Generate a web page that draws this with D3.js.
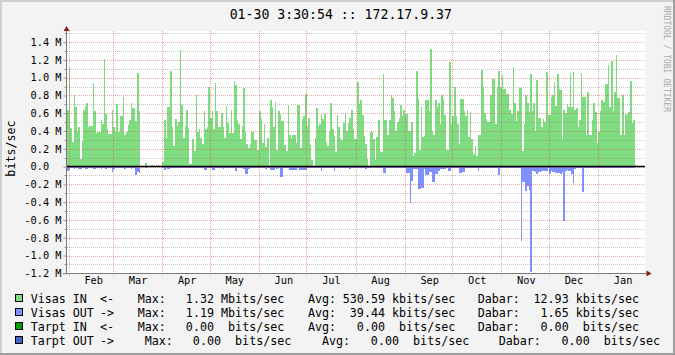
<!DOCTYPE html>
<html>
<head>
<meta charset="utf-8">
<script src="https://cdn.jsdelivr.net/npm/d3@7"></script>
<style>
  html, body { margin: 0; padding: 0; background: #f3f3f3; }
  svg { display: block; }
</style>
</head>
<body>
<div id="chart"></div>
<script>
// daily averages in Mbit/s, first value = Jan 30 of previous year
var visasIn = [
  0.32,0.64,1.12,0.43,0.28,0.81,0.67,0.39,0.45,0.09,
  0.29,0.64,0.67,0.72,0.45,0.46,0.46,0.94,0.62,0.38,
  0.39,0.39,0.52,0.48,1.21,0.59,0.42,0.37,0.37,0.64,
  0.44,0.39,0.70,0.39,0.57,0.57,0.78,0.36,0.39,0.47,
  0.52,0.71,0.66,0.66,0.51,1.05,0.62,
  0,0,0,0.04,0,0,0,0.015,0,0,0,0.015,0,0,
  0.05,0.52,0.32,0.67,0.67,1.08,0.44,0.23,0.53,0.46,
  0.50,1.31,0.69,0.32,0.46,0.64,0.43,0.03,0.03,0.31,
  0.18,0.80,0.39,0.42,0.32,0.25,0.63,0.42,0.44,0.89,
  0.55,0.63,0.42,0.94,0.63,0.45,0.45,0.60,0.44,0.32,
  0.68,0.49,0.38,0.64,0.38,0.96,0.92,0.52,0.48,0.31,
  0.46,0.88,0.39,0.25,0.21,0.25,0.39,0.39,0.30,0.30,
  0.19,0.63,0.53,0.26,0.48,0.22,0.32,0.02,0.75,0.67,
  0.45,0.73,0.19,0.62,0.59,0.51,0.51,0.24,0.17,0.69,
  0.35,0.32,0.36,0.36,0.27,0.69,0.69,0.21,0.53,0.57,
  0.82,0.46,0.55,0.24,0.07,0.01,0.32,0.66,0.46,0.48,
  0.59,0.53,0.59,0.28,0.23,0.40,0.71,0.42,0.34,0.16,
  0.58,0.44,0.32,0.30,0.49,0.60,0.40,0.49,0.55,0.64,
  0.42,
  0.31,0.31,0.95,0.70,0.75,0.58,0.34,0.25,0.09,0,
  0.39,0.39,0.31,0.07,0.33,0.52,0.18,0.16,1.04,0.52,
  0.52,0.36,0.52,0.81,0.77,0.63,0.40,0.50,0.55,0.69,
  0.57,0.64,0.59,0.59,0.40,0.40,0.50,0.12,0.15,1.08,
  0.76,0.19,0.67,0.33,0.34,0.75,0.75,0.63,1.32,0.40,
  0.36,0.75,0.67,0.72,0.48,0.81,0.76,0.58,0.19,0.19,
  1.18,
  0.48,0.57,0.89,0.57,0.48,0.25,0.76,0.76,0.62,0.57,
  0.64,0.33,0.61,0.31,0.14,0.23,0.12,0.35,0.35,1.09,
  0.90,0.60,0.54,0.50,0.50,0.80,0.99,0.98,0.48,0.89,
  1.07,0.90,1.03,0.87,0.87,0.82,0.82,0.64,0.59,1.12,
  0.71,0.51,0.63,0.88,0.89,0.17,0.48,0.81,0.71,0.61,
  1.04,0.63,0.72,0.40,0.97,0.55,0.55,0.44,0.54,0.50,
  1.06,0.58,0.58,0.78,0.81,0.95,0.68,1.04,0.87,0.86,
  0.31,0.64,0.60,0.70,0.67,1.05,0.67,1.06,0.64,0.66,
  0.45,0.52,1.05,0.78,0.78,0.36,0.84,0.35,0.36,0.52,
  0.71,0.61,0.27,0.39,0.62,0.75,0.73,0.93,0.93,1.14,
  0.67,1.19,0.62,0.84,1.25,0.77,0.77,0.35,0.81,0.36,
  0.59,0.58,0.61,0.96,0.49,0.52,0.015,
  0,0,0,0,0
];

// drawn below the zero line
var visasOut = [
  0.03,0.05,0.04,0.02,0.02,0.03,0.02,0.02,0.03,0.03,
  0.02,0.02,0.03,0.03,0.02,0.02,0.02,0.03,0.03,0.02,
  0.02,0.02,0.03,0.02,0.02,0.03,0.02,0.02,0.02,0.06,
  0.03,0.02,0.02,0.02,0.02,0.02,0.02,0.03,0.02,0.02,
  0.02,0.03,0.02,0.02,0.09,0.065,0.075,
  0,0,0,0.02,0,0,0,0,0,0,0,0,0,0,
  0.02,0.04,0.02,0.03,0.03,0.02,0.02,0.02,0.02,0.02,
  0.02,0.02,0.02,0.02,0.02,0.02,0.02,0.02,0.02,0.02,
  0.02,0.02,0.02,0.02,0.02,0.02,0.04,0.04,0.02,0.02,
  0.02,0.04,0.04,0.02,0.02,0.02,0.02,0.02,0.03,0.02,
  0.02,0.02,0.02,0.02,0.02,0.02,0.05,0.02,0.02,0.02,
  0.02,0.03,0.08,0.08,0.03,0.02,0.02,0.02,0.02,0.02,
  0.02,0.02,0.02,0.02,0.02,0.03,0.02,0.02,0.04,0.04,
  0.04,0.02,0.03,0.02,0.12,0.12,0.02,0.02,0.02,0.02,
  0.04,0.04,0.04,0.04,0.04,0.02,0.04,0.04,0.04,0.04,
  0.04,0.02,0.02,0.02,0.02,0.02,0.02,0.02,0.02,0.02,
  0.05,0.02,0.02,0.02,0.02,0.02,0.02,0.02,0.05,0.02,
  0.02,0.02,0.02,0.02,0.02,0.02,0.02,0.02,0.03,0.02,0.02,
  0.02,0.02,0.02,0.02,0.02,0.02,0.02,0.03,0.02,0.02,
  0.02,0.02,0.02,0.02,0.02,0.02,0.02,0.02,0.07,0.07,
  0.02,0.02,0.02,0.02,0.02,0.02,0.02,0.02,0.02,0.02,
  0.02,0.02,0.02,0.07,0.07,0.41,0.16,0.03,0.03,0.03,
  0.25,0.25,0.24,0.24,0.03,0.09,0.09,0.06,0.06,0.17,
  0.17,0.08,0.08,0.05,0.03,0.03,0.03,0.03,0.02,0.05,0.05,
  0.02,0.02,0.02,0.02,0.02,0.07,0.07,0.06,0.06,0.02,
  0.02,0.02,0.02,0.02,0.02,0.02,0.02,0.05,0.02,0.02,
  0.02,0.02,0.02,0.02,0.02,0.02,0.02,0.02,0.02,0.02,
  0.09,0.02,0.02,0.02,0.02,0.02,0.02,0.02,0.02,0.02,
  0.02,0.02,0.02,0.02,0.84,0.17,0.17,0.27,0.22,0.26,
  1.19,0.05,0.05,0.06,0.08,0.06,0.06,0.05,0.05,0.05,
  0.05,0.02,0.08,0.05,0.06,0.06,0.07,0.07,0.07,0.08,
  0.06,0.61,0.05,0.04,0.05,0.05,0.08,0.18,0.03,0.02,
  0.02,0.02,0.02,0.29,0.02,0.02,0.02,0.02,0.02,0.02,
  0.02,0.02,0.02,0.02,0.02,0.02,0.02,0.02,0.02,0.02,
  0.02,0.02,0.02,0.02,0.02,0.02,0.02,0.02,0.02,0.02,
  0.02,0.02,0.02,0.02,0.02,0.02,0.0,
  0,0,0,0,0
];

var yTicks = [1.4,1.2,1.0,0.8,0.6,0.4,0.2,0,-0.2,-0.4,-0.6,-0.8,-1.0,-1.2];
var yMinor = [1.5,1.3,1.1,0.9,0.7,0.5,0.3,0.1,-0.1,-0.3,-0.5,-0.7,-0.9,-1.1];
var monthLabels = ["Feb","Mar","Apr","May","Jun","Jul","Aug","Sep","Oct","Nov","Dec","Jan"];

var legendNames = ["Visas IN <-", "Visas OUT ->", "Tarpt IN <-", "Tarpt OUT ->"];
var legendColors = ["#80dc80", "#8090ff", "#00a000", "#4466cc"];
var legendMax = ["1.32", "1.19", "0.00", "0.00"];
var legendMaxUnit = ["M", "M", "", ""];
var legendAvg = ["530.59", "39.44", "0.00", "0.00"];
var legendAvgUnit = ["k", "k", "", ""];
var legendCur = ["12.93", "1.65", "0.00", "0.00"];
var legendCurUnit = ["k", "k", "", ""];

var titleText = "01-30 3:30:54 :: 172.17.9.37";
var unitText = "bits/sec";
var watermark = "RRDTOOL / TOBI OETIKER";

var width = 675, height = 355;
var mono = "'DejaVu Sans Mono', monospace";

var svg = d3.select("#chart").append("svg")
  .attr("width", width)
  .attr("height", height);

var start = new Date(Date.UTC(2006, 0, 30, 3, 30, 54));
var end = new Date(Date.UTC(2007, 0, 30, 3, 30, 54));

var x = d3.scaleUtc().domain([start, end]).range([65.7, 644.2]);
var y = d3.scaleLinear().domain([-1.2, 1.525]).range([273.3, 31]);

// background + 3d frame
svg.append("rect").attr("width", width).attr("height", height).attr("fill", "#f3f3f3");
svg.append("rect").attr("x", 0).attr("y", 0).attr("width", width).attr("height", 2).attr("fill", "#cfcfcf");
svg.append("rect").attr("x", 0).attr("y", 0).attr("width", 2).attr("height", height).attr("fill", "#cfcfcf");
svg.append("rect").attr("x", 0).attr("y", height - 2).attr("width", width).attr("height", 2).attr("fill", "#9e9e9e");
svg.append("rect").attr("x", width - 2).attr("y", 0).attr("width", 2).attr("height", height).attr("fill", "#9e9e9e");

// canvas
svg.append("rect").attr("x", 67).attr("y", 31).attr("width", 578).attr("height", 242).attr("fill", "#ffffff");

var days = visasIn.map(function(v, i){
  return {
    t0: d3.utcDay.offset(start, i),
    t1: d3.utcDay.offset(start, i + 1),
    vin: v,
    vout: visasOut[i] || 0
  };
});

var y0 = Math.round(y(0));

svg.append("g").attr("shape-rendering", "crispEdges")
  .selectAll("rect")
  .data(days.filter(function(d){ return d.vin > 0; }))
  .enter()
  .append("rect")
  .attr("x", function(d){ return Math.round(x(d.t0)); })
  .attr("width", function(d){ return Math.round(x(d.t1)) - Math.round(x(d.t0)); })
  .attr("y", function(d){ return Math.round(y(d.vin)); })
  .attr("height", function(d){ return y0 - Math.round(y(d.vin)); })
  .attr("fill", legendColors[0]);

svg.append("g").attr("shape-rendering", "crispEdges")
  .selectAll("rect")
  .data(days.filter(function(d){ return d.vout > 0; }))
  .enter()
  .append("rect")
  .attr("x", function(d){ return Math.round(x(d.t0)); })
  .attr("width", function(d){ return Math.round(x(d.t1)) - Math.round(x(d.t0)); })
  .attr("y", y0)
  .attr("height", function(d){ return Math.round(y(-d.vout)) - y0; })
  .attr("fill", legendColors[1]);

// grid on top of the areas
var grid = svg.append("g").attr("shape-rendering", "crispEdges");

grid.selectAll(".minor")
  .data(yMinor)
  .enter()
  .append("line")
  .attr("x1", 65).attr("x2", 645)
  .attr("y1", function(d){ return Math.round(y(d)) + 0.5; })
  .attr("y2", function(d){ return Math.round(y(d)) + 0.5; })
  .attr("stroke", "rgba(140,140,140,0.5)")
  .attr("stroke-dasharray", "1,1");

grid.selectAll(".major")
  .data(yTicks)
  .enter()
  .append("line")
  .attr("x1", 67).attr("x2", 645)
  .attr("y1", function(d){ return Math.round(y(d)) + 0.5; })
  .attr("y2", function(d){ return Math.round(y(d)) + 0.5; })
  .attr("stroke", "rgba(222,79,79,0.5)")
  .attr("stroke-dasharray", "1,1");

var months = d3.utcMonth.range(start, end);
grid.selectAll(".vmajor")
  .data(months)
  .enter()
  .append("line")
  .attr("x1", function(d){ return Math.round(x(d)) + 0.5; })
  .attr("x2", function(d){ return Math.round(x(d)) + 0.5; })
  .attr("y1", 31).attr("y2", 277)
  .attr("stroke", "rgba(222,79,79,0.5)")
  .attr("stroke-dasharray", "1,1");

// zero line
svg.append("line")
  .attr("x1", 66.5).attr("x2", 645)
  .attr("y1", y(0) - 0.1).attr("y2", y(0) - 0.1)
  .attr("stroke", "#000").attr("stroke-width", 1.5);

// axes lines + arrows
svg.append("line").attr("x1", 66.5).attr("x2", 66.5).attr("y1", 29).attr("y2", 274)
  .attr("stroke", "#777").attr("stroke-width", 1);
svg.append("line").attr("x1", 63).attr("x2", 647).attr("y1", 273.5).attr("y2", 273.5)
  .attr("stroke", "#777").attr("stroke-width", 1);
svg.append("path").attr("d", "M66.6,26 L63.6,31 L69.6,31 Z").attr("fill", "#8b1c1c");
svg.append("path").attr("d", "M651.5,273.5 L646.5,270.5 L646.5,276.5 Z").attr("fill", "#8b1c1c");

// small ticks left of the axis for minor rows
svg.append("g").selectAll("line")
  .data(yMinor)
  .enter()
  .append("line")
  .attr("x1", 64.5).attr("x2", 66.5)
  .attr("y1", function(d){ return Math.round(y(d)) + 0.5; })
  .attr("y2", function(d){ return Math.round(y(d)) + 0.5; })
  .attr("stroke", "#999");

// y axis labels
var yAxis = d3.axisLeft(y)
  .tickValues(yTicks)
  .tickFormat(function(d){ return d === 0 ? "0.0" : d.toFixed(1) + " M"; })
  .tickSize(3)
  .tickPadding(2);

var gy = svg.append("g").attr("transform", "translate(66.5,0)").call(yAxis);
gy.select(".domain").remove();
gy.selectAll("line").attr("stroke", "#999");
gy.attr("font-family", mono).attr("font-size", 10.3);
gy.selectAll("text")
  .attr("fill", "#000")
  .attr("dx", function(d){ return d === 0 ? -12.4 : 0; });

// x axis labels, mid month
var labelDates = months.map(function(m){ return d3.utcHour.offset(m, 372); });
var xAxis = d3.axisBottom(x)
  .tickValues(labelDates)
  .tickFormat(function(d, i){ return monthLabels[i]; })
  .tickSize(0)
  .tickPadding(4);

var gx = svg.append("g").attr("transform", "translate(0,273)").call(xAxis);
gx.select(".domain").remove();
gx.attr("font-family", mono).attr("font-size", 10.3);
gx.selectAll("text").attr("fill", "#000");

// title
svg.append("text")
  .attr("x", 340.8).attr("y", 18.6)
  .attr("text-anchor", "middle")
  .attr("font-family", mono).attr("font-size", 13.2)
  .text(titleText);

// unit
svg.append("text")
  .attr("transform", "translate(15.3,148.5) rotate(-90)")
  .attr("text-anchor", "middle")
  .attr("font-family", mono).attr("font-size", 11.7)
  .text(unitText);

// watermark
svg.append("text")
  .attr("transform", "translate(664,6) rotate(90)")
  .attr("font-family", mono).attr("font-size", 8)
  .attr("fill", "#a8a8a8")
  .text(watermark);

// legend
var charW = 7.04;
var nameX = [30.7, 72.7, 100];
var groups = [
  {label: "Max:", lx: 137.7, numEnd: 214, vals: legendMax, units: legendMaxUnit},
  {label: "Avg:", lx: 308, numEnd: 385, vals: legendAvg, units: legendAvgUnit},
  {label: "Dabar:", lx: 477.7, numEnd: 568.7, vals: legendCur, units: legendCurUnit}
];

var legend = svg.append("g").attr("font-family", mono).attr("font-size", 11.7);

legendNames.forEach(function(name, i){
  var by = 303 + i * 14.15;
  var shift = i === 3 ? 7 : 0;

  legend.append("rect")
    .attr("x", 15.5).attr("y", by - 8.5)
    .attr("width", 7).attr("height", 7)
    .attr("fill", legendColors[i])
    .attr("stroke", "#000").attr("stroke-width", 1)
    .attr("shape-rendering", "crispEdges");

  name.split(" ").forEach(function(w, k){
    legend.append("text").attr("x", nameX[k]).attr("y", by).text(w);
  });

  groups.forEach(function(g, gi){
    var s = shift * (gi + 1);
    legend.append("text").attr("x", g.lx + s).attr("y", by).text(g.label);
    legend.append("text").attr("x", g.numEnd + s).attr("y", by)
      .attr("text-anchor", "end").text(g.vals[i]);
    var u = g.units[i];
    legend.append("text")
      .attr("x", g.numEnd + s + charW * (u ? 1 : 2))
      .attr("y", by)
      .text(u + "bits/sec");
  });
});
</script>
</body>
</html>
